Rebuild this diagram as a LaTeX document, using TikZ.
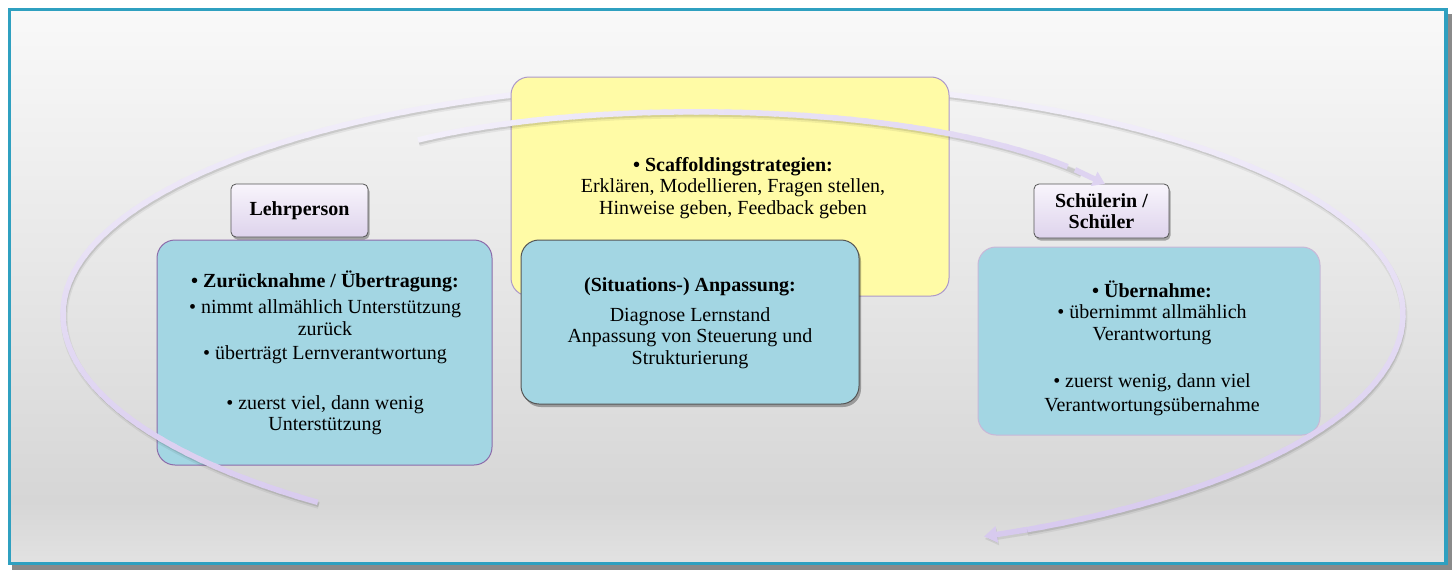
\documentclass[tikz,border=0pt]{standalone}
\usepackage{fontspec}
\setmainfont{Liberation Serif}
\usetikzlibrary{arrows.meta,shadows}

\definecolor{frameteal}{RGB}{47,160,192}
\definecolor{frameshadow}{RGB}{138,138,138}
\definecolor{bgtop}{RGB}{249,249,249}
\definecolor{bgmid}{RGB}{229,229,229}
\definecolor{bglow}{RGB}{214,214,214}
\definecolor{bgbot}{RGB}{226,226,226}
\definecolor{boxblue}{RGB}{163,214,227}
\definecolor{boxyellow}{RGB}{255,251,166}
\definecolor{yellowedge}{RGB}{172,152,202}
\definecolor{leftedge}{RGB}{140,108,170}
\definecolor{rightedge}{RGB}{200,184,216}
\definecolor{darkedge}{RGB}{85,85,85}
\definecolor{labtop}{RGB}{248,245,252}
\definecolor{labbot}{RGB}{222,211,236}
\definecolor{bandlight}{RGB}{243,240,250}
\definecolor{banddark}{RGB}{214,200,238}

\pgfdeclareverticalshading{panelshade}{100bp}{color(0bp)=(bgbot); color(25bp)=(bgbot); color(30.6bp)=(bglow); color(49bp)=(bgmid); color(75bp)=(bgtop); color(100bp)=(bgtop)}

\begin{document}
\begin{tikzpicture}[x=1pt, y=-1pt,
  declare function={
    obx(\t)=733+670*cos(\t);
    oby(\t)=314+236*sin(\t)+4*abs(sin(\t));
    ibx(\t)=(1-\t)^3*418+3*(1-\t)^2*\t*600+3*(1-\t)*\t^2*950+\t^3*1105;
    iby(\t)=(1-\t)^3*140+3*(1-\t)^2*\t*95+3*(1-\t)*\t^2*100+\t^3*184;
  },
  panel/.style={rectangle, rounded corners=18pt, inner sep=0pt, line width=1pt},
  tagbox/.style={rectangle, rounded corners=5pt, inner sep=0pt, draw=darkedge, line width=0.8pt,
    top color=labtop, bottom color=labbot,
    drop shadow={shadow xshift=1.5pt, shadow yshift=-2.5pt, opacity=0.3, fill=black}},
  txt/.style={align=center, inner sep=0pt, font=\fontsize{20}{21.5}\selectfont},
  band/.style={line width=5.5pt, line cap=butt},
  softshadow/.style={line width=7pt, black, opacity=0.06},
  bandshadow/.style={line width=4.5pt, black, opacity=0.10},
]
\useasboundingbox (0,0) rectangle (1452,570);
\fill[white] (0,0) rectangle (1452,570);

% outer frame with its shadow and the shaded panel
\fill[frameshadow] (12,14) rectangle (1452,570);
\fill[shading=panelshade] (9.5,9.5) rectangle (1446,563.5);
\draw[frameteal, line width=3.5pt] (9.5,9.5) rectangle (1446,563.5);

% side boxes
\node[panel, draw=leftedge, fill=boxblue, minimum width=335pt, minimum height=225pt] (lbox) at (324.5,352.5) {};
\node[panel, draw=rightedge, fill=boxblue, minimum width=342pt, minimum height=188pt] (rbox) at (1149,341) {};

% role labels
\node[tagbox, minimum width=137pt, minimum height=53pt] (teacher) at (299.5,210.5) {};
\node[tagbox, minimum width=135pt, minimum height=54pt] (student) at (1101.5,211) {};

% outer cycle arrow: soft shadow, then the band in short segments
\draw[softshadow] plot[domain=128.3:424, samples=150] ({obx(\x)+1},{oby(\x)+3});
\draw[bandshadow] plot[domain=128.3:424, samples=150] ({obx(\x)+1},{oby(\x)+2.5});
\foreach \i in {128.3,130.3,...,422.3}{
  \pgfmathtruncatemacro\p{50*(1-sin(\i))}
  \pgfmathsetmacro\j{\i+2.6}
  \draw[band, color=bandlight!\p!banddark] plot[domain=\i:\j, samples=3] ({obx(\x)},{oby(\x)});
}
\coordinate (outerFrom) at ({obx(424)},{oby(424)});
\coordinate (outerTip) at ({obx(428)},{oby(428)});
\draw[line width=5.5pt, black, opacity=0.08, -{Triangle[width=16pt,length=13pt]}] ([shift={(1,2.5)}]outerFrom) -- ([shift={(1,2.5)}]outerTip);
\draw[band, color=bandlight!4!banddark, -{Triangle[width=16pt,length=13pt]}] (outerFrom) -- (outerTip);

% central strategy box
\node[panel, draw=yellowedge, fill=boxyellow, minimum width=438pt, minimum height=219pt] (ybox) at (730,186.5) {};

% inner arrow towards the learner
\draw[softshadow] plot[domain=0:0.95, samples=60] ({ibx(\x)+1},{iby(\x)+3});
\draw[bandshadow] plot[domain=0:0.95, samples=60] ({ibx(\x)+1},{iby(\x)+2.5});
\foreach \i in {0,0.02,...,0.92}{
  \pgfmathtruncatemacro\p{100-75*\i}
  \pgfmathsetmacro\j{\i+0.026}
  \draw[band, color=bandlight!\p!banddark] plot[domain=\i:\j, samples=3] ({ibx(\x)},{iby(\x)});
}
\coordinate (innerFrom) at ({ibx(0.94)},{iby(0.94)});
\coordinate (innerTip) at ({ibx(1)},{iby(1)});
\draw[band, color=bandlight!27!banddark, -{Triangle[width=15pt,length=12pt]}] (innerFrom) -- (innerTip);

% adaptation box
\node[panel, draw=darkedge, fill=boxblue, minimum width=338pt, minimum height=164pt,
  drop shadow={shadow xshift=2pt, shadow yshift=-3pt, opacity=0.3, fill=black}] (cbox) at (690,322) {};

% texts
\node[txt, font=\fontsize{20}{21.5}\selectfont\bfseries] (teachertxt) at (teacher.center) {Lehrperson};
\node[txt, font=\fontsize{20}{21}\selectfont\bfseries] (studenttxt) at (student.center) {Schülerin /\\Schüler};

\node[txt] (ytxt) at (733,188) {\textbf{• Scaffoldingstrategien:}\\
  Erklären, Modellieren, Fragen stellen,\\
  Hinweise geben, Feedback geben};

\node[txt] (ctxt) at (690,323) {\textbf{(Situations-) Anpassung:}\\[8.5pt]
  Diagnose Lernstand\\
  Anpassung von Steuerung und\\
  Strukturierung};

\node[txt] (ltxt) at (325,353) {\textbf{• Zurücknahme / Übertragung:}\\[4.5pt]
  • nimmt allmählich Unterstützung\\
  zurück\\[2.5pt]
  • überträgt Lernverantwortung\\[28.5pt]
  • zuerst viel, dann wenig\\
  Unterstützung};

\node[txt] (rtxt) at (1152,348) {\textbf{• Übernahme:}\\
  • übernimmt allmählich\\
  Verantwortung\\[25.5pt]
  • zuerst wenig, dann viel\\[2.5pt]
  Verantwortungsübernahme};
\end{tikzpicture}
\end{document}
